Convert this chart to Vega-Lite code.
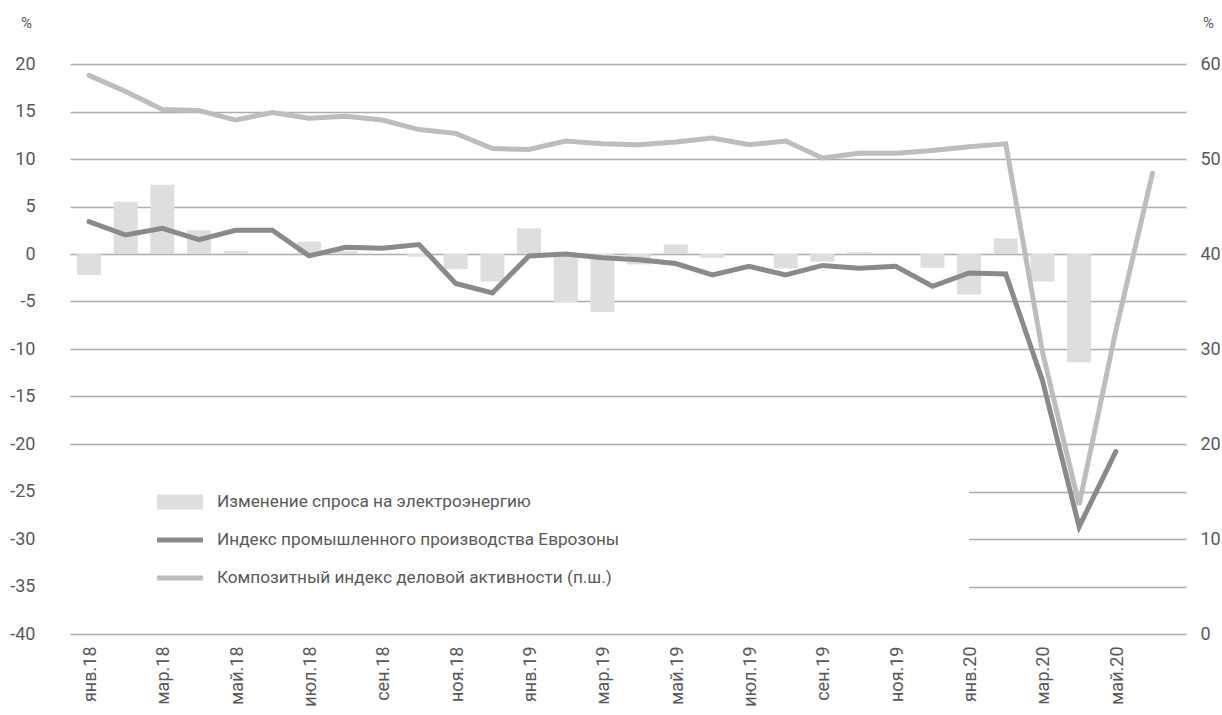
{
  "$schema": "https://vega.github.io/schema/vega-lite/v6.json",
  "width": 1116,
  "height": 570,
  "autosize": {"type": "none"},
  "padding": {"left": 70, "top": 64, "right": 36, "bottom": 81},
  "background": "white",
  "config": {
    "view": {"stroke": null},
    "font": "Roboto",
    "axis": {"labelFont": "Roboto", "titleFont": "Roboto", "labelColor": "#595959", "titleColor": "#595959"}
  },
  "data": {
    "values": [
      {"m": "янв.18", "elec": -2.2, "ind": 3.4, "pmi": 58.8},
      {"m": "фев.18", "elec": 5.5, "ind": 2.0, "pmi": 57.1},
      {"m": "мар.18", "elec": 7.3, "ind": 2.7, "pmi": 55.2},
      {"m": "апр.18", "elec": 2.5, "ind": 1.5, "pmi": 55.1},
      {"m": "май.18", "elec": 0.3, "ind": 2.5, "pmi": 54.1},
      {"m": "июн.18", "elec": 0.0, "ind": 2.5, "pmi": 54.9},
      {"m": "июл.18", "elec": 1.3, "ind": -0.2, "pmi": 54.3},
      {"m": "авг.18", "elec": 0.3, "ind": 0.7, "pmi": 54.5},
      {"m": "сен.18", "elec": 0.0, "ind": 0.6, "pmi": 54.1},
      {"m": "окт.18", "elec": -0.3, "ind": 1.0, "pmi": 53.1},
      {"m": "ноя.18", "elec": -1.6, "ind": -3.1, "pmi": 52.7},
      {"m": "дек.18", "elec": -2.9, "ind": -4.1, "pmi": 51.1},
      {"m": "янв.19", "elec": 2.7, "ind": -0.2, "pmi": 51.0},
      {"m": "фев.19", "elec": -5.1, "ind": 0.0, "pmi": 51.9},
      {"m": "мар.19", "elec": -6.1, "ind": -0.4, "pmi": 51.6},
      {"m": "апр.19", "elec": -1.1, "ind": -0.6, "pmi": 51.5},
      {"m": "май.19", "elec": 1.0, "ind": -1.0, "pmi": 51.8},
      {"m": "июн.19", "elec": -0.4, "ind": -2.2, "pmi": 52.2},
      {"m": "июл.19", "elec": 0.0, "ind": -1.3, "pmi": 51.5},
      {"m": "авг.19", "elec": -1.5, "ind": -2.2, "pmi": 51.9},
      {"m": "сен.19", "elec": -0.8, "ind": -1.2, "pmi": 50.1},
      {"m": "окт.19", "elec": 0.2, "ind": -1.5, "pmi": 50.6},
      {"m": "ноя.19", "elec": 0.0, "ind": -1.3, "pmi": 50.6},
      {"m": "дек.19", "elec": -1.45, "ind": -3.4, "pmi": 50.9},
      {"m": "янв.20", "elec": -4.25, "ind": -2.0, "pmi": 51.3},
      {"m": "фев.20", "elec": 1.65, "ind": -2.1, "pmi": 51.6},
      {"m": "мар.20", "elec": -2.9, "ind": -13.3, "pmi": 29.7},
      {"m": "апр.20", "elec": -11.4, "ind": -28.7, "pmi": 13.6},
      {"m": "май.20", "elec": null, "ind": -20.8, "pmi": 31.9},
      {"m": "июн.20", "elec": null, "ind": null, "pmi": 48.5}
    ]
  },
  "layer": [
    {
      "layer": [
        {
          "data": {"values": [{}]},
          "mark": {"type": "rect", "color": "white"},
          "encoding": {
            "x": {"datum": "янв.18", "type": "ordinal", "bandPosition": -0.3},
            "x2": {"datum": "янв.20"},
            "y": {"datum": -22.5, "type": "quantitative"},
            "y2": {"datum": -37.5}
          }
        },
        {
          "mark": {"type": "bar"},
          "encoding": {
            "x": {
              "field": "m", "type": "ordinal", "sort": null,
              "scale": {
                "type": "band",
                "domain": ["янв.18","фев.18","мар.18","апр.18","май.18","июн.18","июл.18","авг.18","сен.18","окт.18","ноя.18","дек.18","янв.19","фев.19","мар.19","апр.19","май.19","июн.19","июл.19","авг.19","сен.19","окт.19","ноя.19","дек.19","янв.20","фев.20","мар.20","апр.20","май.20","июн.20"],
                "paddingInner": 0.345, "paddingOuter": 0.389, "align": 0.245
              },
              "axis": {
                "values": ["янв.18","мар.18","май.18","июл.18","сен.18","ноя.18","янв.19","мар.19","май.19","июл.19","сен.19","ноя.19","янв.20","мар.20","май.20"],
                "title": null, "labelAngle": -90, "ticks": false, "domain": false, "grid": false,
                "labelPadding": 12, "labelFontSize": 18, "labelOffset": 2
              }
            },
            "y": {
              "field": "elec", "type": "quantitative",
              "scale": {"domain": [-40, 20], "nice": false, "zero": false},
              "axis": {
                "values": [-40,-35,-30,-25,-20,-15,-10,-5,0,5,10,15,20],
                "labelExpr": "'' + datum.value",
                "title": "%", "titleAngle": 0, "titleX": -44, "titleY": -42,
                "titleAlign": "center", "titleBaseline": "middle",
                "titleFontSize": 15, "titleFontWeight": "normal",
                "grid": true, "gridColor": "#adadad", "gridWidth": 1.5,
                "ticks": false, "domain": false, "labelPadding": 35, "labelFontSize": 18
              }
            },
            "color": {
              "datum": "Изменение спроса на электроэнергию",
              "scale": {
                "domain": ["Изменение спроса на электроэнергию", "Индекс промышленного производства Еврозоны", "Композитный индекс деловой активности (п.ш.)"],
                "range": ["#dedede", "#8a8a8a", "#bdbdbd"]
              },
              "legend": {
                "orient": "none", "legendX": 98.5, "legendY": 426.5, "direction": "vertical",
                "title": null, "padding": 0, "rowPadding": 18, "labelLimit": 0,
                "labelFont": "Roboto", "labelFontSize": 17.2, "labelColor": "#595959",
                "labelOffset": 25.5, "symbolSize": 529,
                "encode": {
                  "symbols": {
                    "update": {
                      "shape": {"signal": "datum.value === 'Изменение спроса на электроэнергию' ? 'M-2,-0.65H2V0.65H-2Z' : 'M-2,-0.22H2V0.22H-2Z'"},
                      "fill": {"signal": "datum.value === 'Изменение спроса на электроэнергию' ? '#dedede' : (datum.value === 'Индекс промышленного производства Еврозоны' ? '#8a8a8a' : '#bdbdbd')"},
                      "stroke": {"value": null},
                      "strokeWidth": {"value": 0},
                      "opacity": {"value": 1},
                      "fillOpacity": {"value": 1}
                    }
                  }
                }
              }
            }
          }
        },
        {
          "mark": {"type": "line", "strokeWidth": 5, "strokeCap": "round", "strokeJoin": "miter"},
          "encoding": {
            "x": {"field": "m", "type": "ordinal", "sort": null},
            "y": {"field": "ind", "type": "quantitative"},
            "color": {"datum": "Индекс промышленного производства Еврозоны"}
          }
        }
      ]
    },
    {
      "mark": {"type": "line", "strokeWidth": 5, "strokeCap": "round", "strokeJoin": "miter"},
      "encoding": {
        "x": {"field": "m", "type": "ordinal", "sort": null},
        "y": {
          "field": "pmi", "type": "quantitative",
          "scale": {"domain": [0, 60], "nice": false, "zero": false},
          "axis": {
            "orient": "right",
            "values": [0,10,20,30,40,50,60],
            "title": "%", "titleAngle": 0, "titleX": 22, "titleY": -42,
            "titleAlign": "center", "titleBaseline": "middle",
            "titleFontSize": 15, "titleFontWeight": "normal",
            "grid": false, "ticks": false, "domain": false, "labelPadding": 14, "labelFontSize": 18
          }
        },
        "color": {"datum": "Композитный индекс деловой активности (п.ш.)"}
      }
    }
  ],
  "resolve": {"scale": {"y": "independent"}}
}
